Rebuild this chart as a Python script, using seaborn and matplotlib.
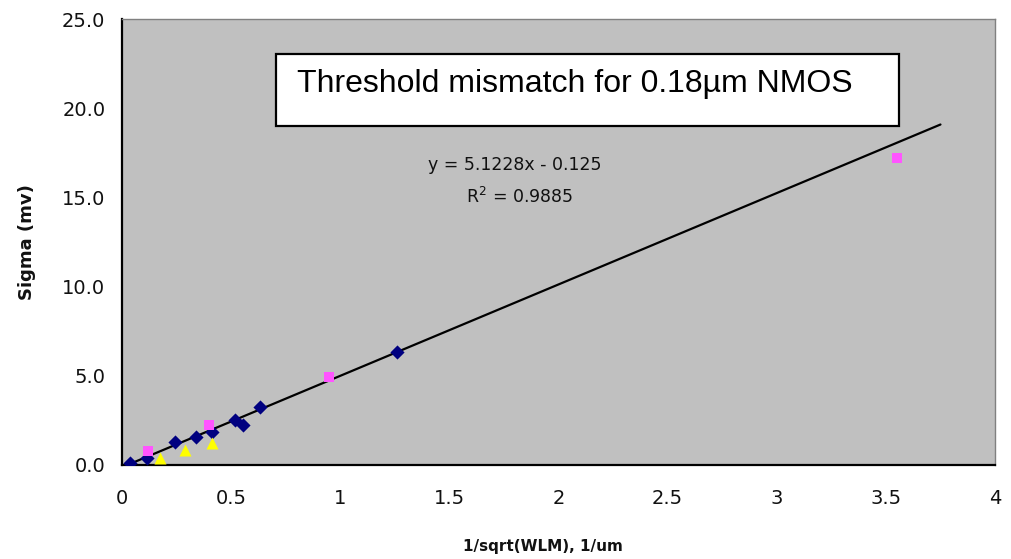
import numpy as np
import pandas as pd
import matplotlib
matplotlib.use("Agg")
import matplotlib.pyplot as plt
from matplotlib.patches import Rectangle
import seaborn as sns

# Measured mismatch: sigma(Vt) vs 1/sqrt(W*L*M)
diamond_x = [0.037, 0.113, 0.242, 0.338, 0.41, 0.516, 0.554, 0.63, 1.259]
diamond_y = [0.10, 0.38, 1.31, 1.59, 1.87, 2.52, 2.24, 3.27, 6.35]
square_x = [0.12, 0.40, 0.947, 3.55]
square_y = [0.80, 2.24, 4.95, 17.2]
triangle_x = [0.174, 0.29, 0.41]
triangle_y = [0.37, 0.84, 1.21]

slope = 5.1228
intercept = -0.125
r_squared = 0.9885
fit_range = [0.03, 3.75]

x_ticks = [0, 0.5, 1, 1.5, 2, 2.5, 3, 3.5, 4]
x_tick_labels = ["0", "0.5", "1", "1.5", "2", "2.5", "3", "3.5", "4"]
y_ticks = [0, 5, 10, 15, 20, 25]
y_tick_labels = ["0.0", "5.0", "10.0", "15.0", "20.0", "25.0"]

title_text = "Threshold mismatch for 0.18µm NMOS"
x_label = "1/sqrt(WLM), 1/um"
y_label = "Sigma (mv)"

sns.set_style("white")
plt.rcParams["font.family"] = ["DejaVu Sans"]

df = pd.DataFrame({
    "x": diamond_x + square_x + triangle_x,
    "y": diamond_y + square_y + triangle_y,
    "group": ["a"] * len(diamond_x) + ["b"] * len(square_x) + ["c"] * len(triangle_x),
})

fig = plt.figure(figsize=(10.11, 5.59), dpi=100)
ax = fig.add_axes([0.1207, 0.1682, 0.9842 - 0.1207, 0.966 - 0.1682])
ax.set_facecolor("#C0C0C0")

# trend line from the fitted equation
fit = pd.DataFrame({"x": fit_range, "y": [slope * v + intercept for v in fit_range]})
sns.lineplot(data=fit, x="x", y="y", ax=ax, color="black", linewidth=1.6, zorder=2)

palette = {"a": "#000080", "b": "#FF55FF", "c": "#FFFF00"}
markers = {"a": "D", "b": "s", "c": "^"}
sizes = {"a": 52, "b": 62, "c": 75}
for g in ["a", "b", "c"]:
    sub = df[df["group"] == g]
    sns.scatterplot(data=sub, x="x", y="y", ax=ax, color=palette[g], marker=markers[g],
                    s=sizes[g], linewidth=0, zorder=3, legend=False)

ax.set_xlim(0, 4)
ax.set_ylim(0, 25)
ax.set_xticks(x_ticks)
ax.set_xticklabels(x_tick_labels)
ax.set_yticks(y_ticks)
ax.set_yticklabels(y_tick_labels)
ax.tick_params(axis="both", direction="out", length=7, width=1.3, color="black",
               labelsize=14, labelcolor="#111111")
ax.tick_params(axis="x", pad=10)
ax.tick_params(axis="y", pad=5)

for side in ["left", "bottom"]:
    ax.spines[side].set_color("black")
    ax.spines[side].set_linewidth(1.6)
for side in ["top", "right"]:
    ax.spines[side].set_color("#808080")
    ax.spines[side].set_linewidth(1.0)
    ax.spines[side].set_visible(True)

ax.set_xlabel(x_label, fontsize=11, fontweight="bold", color="#111111")
ax.set_ylabel(y_label, fontsize=13, fontweight="bold", color="#111111")
ax.xaxis.set_label_coords(0.482, -0.167)
ax.yaxis.set_label_coords(-0.098, 0.5)

# fit equation
ax.text(1.80, 16.8, f"y = {slope}x - {abs(intercept)}", fontsize=12.5, ha="center",
        va="center", color="#111111")
ax.text(1.823, 15.0, f"R$^2$ = {r_squared}", fontsize=12.5, ha="center", va="center",
        color="#111111")

# title box
W, H = 1011, 559
box = Rectangle((276 / W, 1 - 125.5 / H), (899 - 276) / W, (125.5 - 54) / H,
                transform=fig.transFigure, facecolor="white", edgecolor="black",
                linewidth=1.6, zorder=5)
fig.patches.append(box)
fig.text(297 / W, 1 - 84 / H, title_text, fontsize=23, family=["Liberation Sans", "DejaVu Sans"],
         ha="left", va="center", color="black", zorder=6)

fig.savefig("out.png", dpi=100)
